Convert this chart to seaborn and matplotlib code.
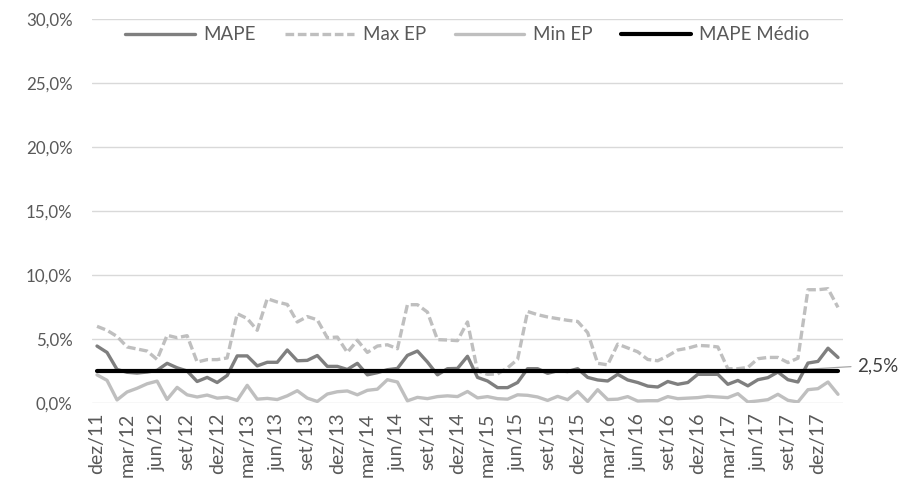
import matplotlib
matplotlib.use("Agg")
import matplotlib.pyplot as plt
import numpy as np
import pandas as pd
import seaborn as sns

# Monthly error statistics, dez/11 .. fev/18 (values in %)
mape = [4.45, 3.95, 2.62, 2.40, 2.34, 2.42, 2.55, 3.10, 2.75, 2.50,
        1.68, 2.00, 1.60, 2.15, 3.68, 3.68, 2.90, 3.18, 3.18, 4.14,
        3.30, 3.33, 3.71, 2.86, 2.86, 2.62, 3.10, 2.20, 2.37, 2.60,
        2.70, 3.72, 4.06, 3.20, 2.20, 2.68, 2.70, 3.65, 2.00, 1.72,
        1.20, 1.20, 1.60, 2.68, 2.68, 2.32, 2.52, 2.46, 2.68, 2.00,
        1.80, 1.72, 2.24, 1.80, 1.60, 1.32, 1.25, 1.68, 1.46, 1.60,
        2.24, 2.24, 2.24, 1.46, 1.76, 1.34, 1.82, 1.98, 2.42, 1.82,
        1.64, 3.12, 3.25, 4.28, 3.56]

max_ep = [5.99, 5.68, 5.20, 4.38, 4.22, 4.06, 3.40, 5.29, 5.10, 5.26,
          3.20, 3.39, 3.39, 3.52, 6.98, 6.60, 5.68, 8.15, 7.89, 7.70,
          6.33, 6.75, 6.50, 5.10, 5.15, 3.95, 4.90, 3.95, 4.45, 4.55,
          4.24, 7.68, 7.68, 7.10, 4.95, 4.92, 4.87, 6.33, 2.50, 2.24,
          2.27, 2.75, 3.40, 7.15, 6.90, 6.72, 6.59, 6.46, 6.37, 5.50,
          3.10, 2.98, 4.60, 4.30, 4.00, 3.40, 3.30, 3.68, 4.14, 4.28,
          4.50, 4.46, 4.38, 2.68, 2.68, 2.78, 3.46, 3.56, 3.56, 3.16,
          3.50, 8.85, 8.85, 8.93, 7.47]

min_ep = [2.20, 1.77, 0.24, 0.86, 1.15, 1.50, 1.71, 0.28, 1.22, 0.64,
          0.47, 0.62, 0.38, 0.45, 0.20, 1.38, 0.30, 0.36, 0.27, 0.56,
          0.96, 0.38, 0.12, 0.70, 0.88, 0.94, 0.64, 0.99, 1.08, 1.82,
          1.64, 0.17, 0.44, 0.34, 0.50, 0.56, 0.50, 0.90, 0.40, 0.50,
          0.34, 0.30, 0.64, 0.60, 0.47, 0.20, 0.52, 0.26, 0.90, 0.12,
          1.04, 0.27, 0.30, 0.50, 0.15, 0.18, 0.18, 0.50, 0.34, 0.38,
          0.42, 0.52, 0.47, 0.42, 0.73, 0.08, 0.16, 0.26, 0.68, 0.21,
          0.08, 1.04, 1.12, 1.64, 0.68]

mape_medio = 2.5

meses = ["jan", "fev", "mar", "abr", "mai", "jun",
         "jul", "ago", "set", "out", "nov", "dez"]
n = len(mape)
periodos = [f"{meses[(11 + k) % 12]}/{(11 + (11 + k) // 12) % 100:02d}" for k in range(n)]

df = pd.DataFrame({
    "t": np.arange(n),
    "MAPE": mape,
    "Max EP": max_ep,
    "Min EP": min_ep,
    "MAPE Médio": [mape_medio] * n,
})

sns.set_theme(style="white")
plt.rcParams["font.family"] = ["Lato", "DejaVu Sans"]
txt = "#595959"
fs = 13.5

fig = plt.figure(figsize=(9.01, 4.79), dpi=100)
ax = fig.add_axes([92 / 901, 1 - 403 / 479, (843 - 92) / 901, (403 - 19) / 479])

sns.lineplot(data=df, x="t", y="MAPE", ax=ax, color="#7f7f7f", lw=2.4,
             label="MAPE", zorder=4)
sns.lineplot(data=df, x="t", y="Max EP", ax=ax, color="#bfbfbf", lw=2.4,
             label="Max EP", zorder=3)
ax.lines[-1].set_dashes((2.6, 1.1))
sns.lineplot(data=df, x="t", y="Min EP", ax=ax, color="#bfbfbf", lw=2.4,
             label="Min EP", zorder=3)
sns.lineplot(data=df, x="t", y="MAPE Médio", ax=ax, color="black", lw=3.0,
             label="MAPE Médio", zorder=5)

ax.set_xlim(-0.5, n - 0.5)
ax.set_ylim(0, 30)
ax.set_yticks(np.arange(0, 31, 5))
ax.set_yticklabels([f"{v:.1f}%".replace(".", ",") for v in np.arange(0, 31, 5)],
                   color=txt, fontsize=12.2)
ax.set_xticks(np.arange(0, n, 3))
ax.set_xticklabels(periodos[::3], rotation=90, color=txt, fontsize=14)
ax.tick_params(axis="y", length=0, pad=14)
ax.tick_params(axis="x", length=0, pad=7)
ax.set_xlabel("")
ax.set_ylabel("")
ax.grid(axis="y", color="#d9d9d9", lw=1.0)
ax.set_axisbelow(True)
for s in ax.spines.values():
    s.set_visible(False)

leg = ax.legend(loc="upper center", bbox_to_anchor=(0.5, 1.0), ncol=4,
                frameon=False, fontsize=fs, handlelength=3.7,
                handletextpad=0.45, columnspacing=1.55, labelcolor=txt,
                borderaxespad=0.0)

ax.annotate("2,5%", xy=(68, mape_medio), xytext=(75.9, 2.87),
            textcoords="data", ha="left", va="center", fontsize=fs,
            color="#404040", annotation_clip=False,
            arrowprops=dict(arrowstyle="-", color="#a6a6a6", lw=0.9,
                            relpos=(0, 0.5), shrinkA=2, shrinkB=0))

fig.savefig("out.png", dpi=100)
